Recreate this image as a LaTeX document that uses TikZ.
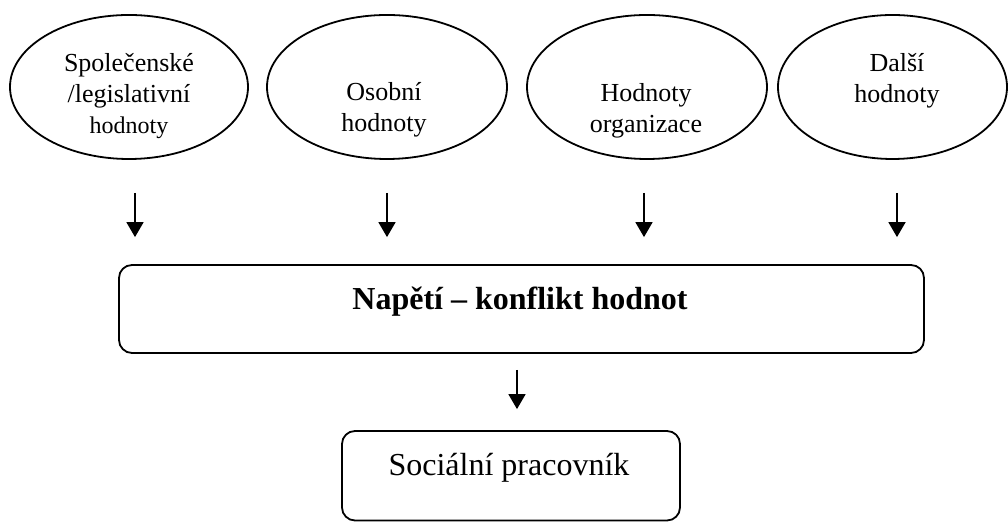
\documentclass[tikz,border=0pt]{standalone}
\usepackage{fontspec}
\setmainfont{Liberation Serif}
\usetikzlibrary{shapes.geometric, arrows.meta}

\begin{document}
\begin{tikzpicture}[x=0.5pt, y=-0.5pt,
		hodnota/.style={draw, ellipse, line width=0.9pt, inner sep=0pt, minimum width=120pt, minimum height=72pt},
		popis/.style={align=center, inner sep=0pt, font=\fontsize{13}{15.5}\selectfont},
		ramecek/.style={draw, rounded corners=6.5pt, line width=0.9pt, inner sep=0pt},
		sipka/.style={line width=0.9pt, -{Triangle[length=7.5pt, width=8.5pt]}}]
		\useasboundingbox (0,0) rectangle (1008,522);
		
		% Elipsy s hodnotami
		\node[hodnota, minimum width=119pt] (spol) at (129,87) {};
		\node[hodnota] (osob) at (387,87) {};
		\node[hodnota] (org) at (647,87) {};
		\node[hodnota, minimum width=114.5pt] (dalsi) at (892.5,87) {};
		
		% Texty v elipsách
		\node[popis] (spol-t) at (129,96) {Společenské\\/legislativní\\{\fontsize{12}{15.5}\selectfont hodnoty}};
		\node[popis] (osob-t) at (384,110) {Osobní\\hodnoty};
		\node[popis] (org-t) at (646,111) {Hodnoty\\organizace};
		\node[popis] (dalsi-t) at (897,81) {Další\\hodnoty};
		
		% Konflikt hodnot
		\node[ramecek, minimum width=402.5pt, minimum height=44pt] (napeti) at (521.5,309) {};
		\node[font=\bfseries\fontsize{16}{19}\selectfont, inner sep=0pt] (napeti-t) at (520,302) {Napětí – konflikt hodnot};
		
		% Sociální pracovník
		\node[ramecek, minimum width=169pt, minimum height=44.75pt] (socialni) at (511,475.75) {};
		\node[font=\fontsize{16}{19}\selectfont, inner sep=0pt] (socialni-t) at (509,468) {Sociální pracovník};
		
		% Šipky
		\foreach \s/\x in {s1/135, s2/387, s3/644, s4/897}
			\coordinate (\s) at (\x,193);
		\foreach \s in {s1,s2,s3,s4}
			\draw[sipka, shorten >=13.5pt] (\s) -- (\s |- napeti.north);
		\coordinate (s5) at (517,370);
		\draw[sipka, shorten >=10.5pt] (s5) -- (s5 |- socialni.north);
	\end{tikzpicture}
\end{document}
